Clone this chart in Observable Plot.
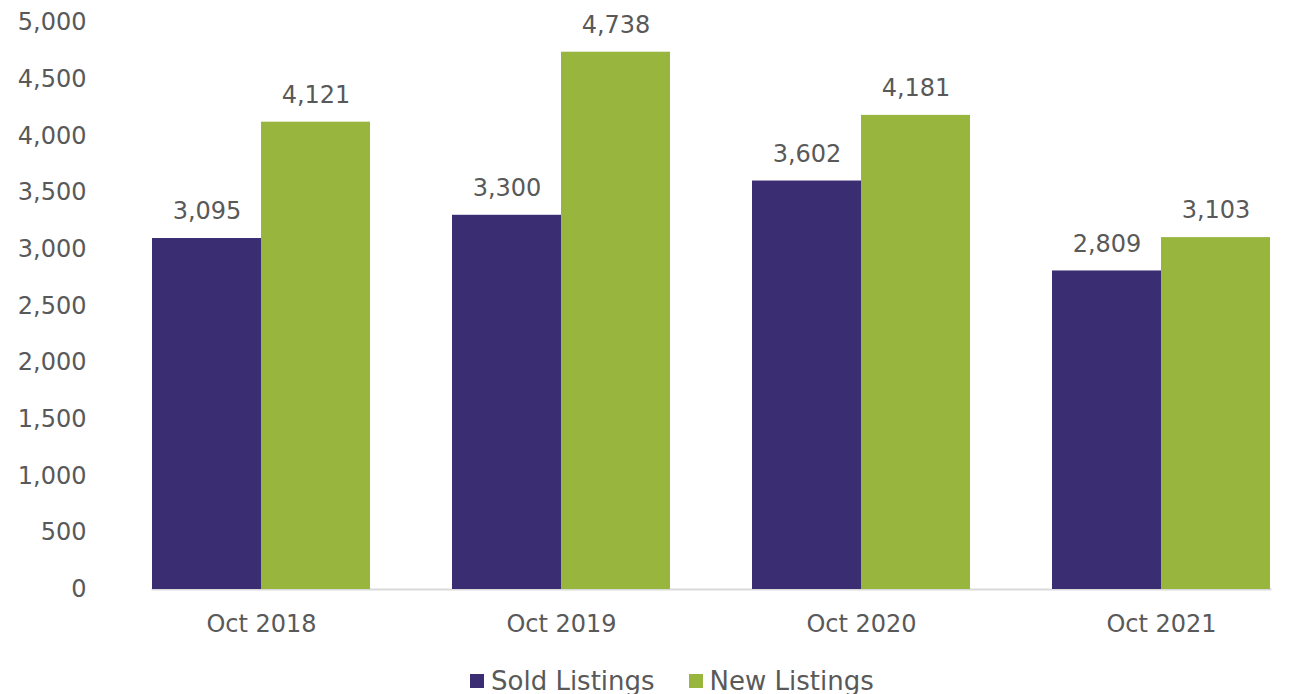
<!DOCTYPE html>
<html>
<head>
<meta charset="utf-8">
<script src="https://cdn.jsdelivr.net/npm/d3@7"></script>
<script src="https://cdn.jsdelivr.net/npm/@observablehq/plot@0.6"></script>
<style>
  html, body { margin: 0; padding: 0; background: #fff; overflow: hidden; }
  body { width: 1312px; height: 694px; font-family: "DejaVu Sans", sans-serif; color: #595959; }
  #legend { position: absolute; left: 470px; top: 666px; display: flex; align-items: center; font-size: 26px; color: #595959; white-space: nowrap; }
  .sw { width: 14px; height: 14px; display: inline-block; margin-right: 7px; }
  .item { display: flex; align-items: center; margin-right: 34px; }
</style>
</head>
<body>
<div id="chart"></div>
<div id="legend"></div>
<script>
const periods = ["Oct 2018", "Oct 2019", "Oct 2020", "Oct 2021"];
const seriesNames = ["Sold Listings", "New Listings"];
const soldListings = [3095, 3300, 3602, 2809];
const newListings = [4121, 4738, 4181, 3103];
const colors = ["#3b2d72", "#98b53d"];
const yTicks = [0, 500, 1000, 1500, 2000, 2500, 3000, 3500, 4000, 4500, 5000];

const data = [];
periods.forEach((p, i) => {
  data.push({period: p, series: seriesNames[0], value: soldListings[i]});
  data.push({period: p, series: seriesNames[1], value: newListings[i]});
});

const fmt = d3.format(",");

const chart = Plot.plot({
  width: 1312,
  height: 650,
  marginTop: 22,
  marginBottom: 61,
  marginLeft: 110,
  marginRight: 0,
  style: {fontFamily: "DejaVu Sans, sans-serif", fontSize: "24px", color: "#595959", background: "#fff"},
  fx: {domain: periods, paddingInner: 0.2745, paddingOuter: 0.137, label: null},
  x: {domain: seriesNames, padding: 0, axis: null},
  y: {domain: [0, 5000], label: null},
  color: {domain: seriesNames, range: colors},
  marks: [
    Plot.frame({anchor: "bottom", facet: "super", stroke: "#d9d9d9", strokeWidth: 2}),
    Plot.axisFx({anchor: "bottom", tickSize: 0, tickPadding: 25, label: null, fill: "#595959"}),
    Plot.axisY({ticks: yTicks, tickFormat: fmt, tickSize: 0, tickPadding: 66, label: null, fill: "#595959"}),
    Plot.barY(data, {fx: "period", x: "series", y: "value", fill: "series"}),
    Plot.text(data, {fx: "period", x: "series", y: "value", text: d => fmt(d.value), dy: -27, fill: "#595959", fontSize: 24})
  ]
});
document.getElementById("chart").appendChild(chart);

const legend = document.getElementById("legend");
seriesNames.forEach((s, i) => {
  const item = document.createElement("div");
  item.className = "item";
  const sw = document.createElement("span");
  sw.className = "sw";
  sw.style.background = colors[i];
  item.appendChild(sw);
  item.appendChild(document.createTextNode(s));
  legend.appendChild(item);
});
</script>
</body>
</html>
